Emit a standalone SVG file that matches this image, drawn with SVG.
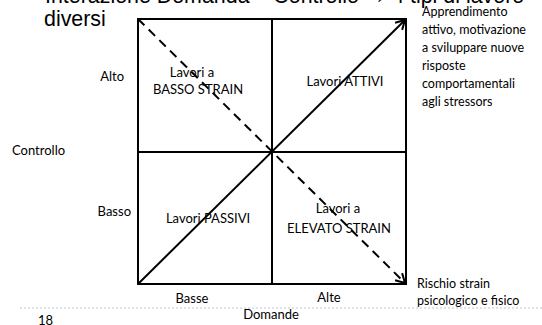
<svg xmlns="http://www.w3.org/2000/svg" width="542" height="325" viewBox="0 0 542 325">
  <style>
    .title { font-family: "Liberation Sans", Arial, sans-serif; font-size: 21.4px; fill: #000; }
    .lbl { font-family: Lato, "Open Sans", sans-serif; font-size: 13px; fill: #000; }
    .note { font-family: Lato, "Open Sans", sans-serif; font-size: 12.5px; fill: #000; }
    .grid { fill: none; stroke: #000; stroke-width: 2; }
    .edge { fill: none; stroke: #000; stroke-width: 2; }
    .dash { stroke-dasharray: 9 6; }
  </style>
  <defs>
    <marker id="chev" viewBox="0 0 12 12" refX="10" refY="6" markerWidth="12" markerHeight="12" markerUnits="userSpaceOnUse" orient="auto">
      <path d="M1,1 L10,6 L1,11" fill="none" stroke="#000" stroke-width="2"/>
    </marker>
  </defs>

  <!-- heading -->
  <g id="heading">
    <text class="title" x="26" y="3" font-size="14">•</text>
    <text class="title" x="45" y="3">Interazione Domanda – Controllo → 4 tipi di lavoro</text>
    <text class="title" x="44" y="26" font-size="22px">diversi</text>
  </g>

  <!-- 2x2 grid -->
  <g id="grid">
    <rect class="grid" x="138" y="19" width="268" height="265"/>
    <line class="grid" x1="272" y1="19" x2="272" y2="284"/>
    <line class="grid" x1="138" y1="152" x2="406" y2="152"/>
  </g>

  <g id="connectors">
    <line class="edge" x1="138" y1="284" x2="405" y2="20" marker-end="url(#chev)"/>
    <line class="edge dash" x1="138" y1="19" x2="405" y2="283" marker-end="url(#chev)"/>
  </g>

  <g id="q-basso-strain">
    <text class="lbl" x="192" y="77" text-anchor="middle">Lavori a</text>
    <text class="lbl" x="198" y="94" text-anchor="middle">BASSO STRAIN</text>
  </g>
  <g id="q-attivi">
    <text class="lbl" x="345" y="86" text-anchor="middle">Lavori ATTIVI</text>
  </g>
  <g id="q-passivi">
    <text class="lbl" x="208" y="223" text-anchor="middle">Lavori PASSIVI</text>
  </g>
  <g id="q-elevato-strain">
    <text class="lbl" x="338" y="213" text-anchor="middle">Lavori a</text>
    <text class="lbl" x="339" y="233" text-anchor="middle">ELEVATO STRAIN</text>
  </g>

  <!-- axis labels -->
  <g id="axis-controllo">
    <text class="lbl" x="124" y="81" text-anchor="end">Alto</text>
    <text class="lbl" x="12" y="155">Controllo</text>
    <text class="lbl" x="131" y="216" text-anchor="end">Basso</text>
  </g>
  <g id="axis-domande">
    <text class="lbl" x="192" y="303" text-anchor="middle">Basse</text>
    <text class="lbl" x="329" y="302" text-anchor="middle">Alte</text>
    <text class="lbl" x="271" y="319" text-anchor="middle">Domande</text>
  </g>

  <g id="note-attivi">
    <text class="note" x="422" y="16">Apprendimento</text>
    <text class="note" x="422" y="34">attivo, motivazione</text>
    <text class="note" x="422" y="52">a sviluppare nuove</text>
    <text class="note" x="422" y="70">risposte</text>
    <text class="note" x="422" y="88">comportamentali</text>
    <text class="note" x="422" y="106">agli stressors</text>
  </g>
  <g id="note-strain">
    <text class="note" x="417" y="288">Rischio strain</text>
    <text class="note" x="417" y="305">psicologico e fisico</text>
  </g>

  <!-- footer -->
  <line x1="20" y1="308" x2="542" y2="308" stroke="#b8c6d6" stroke-width="1" stroke-dasharray="2 2"/>
  <text class="lbl" x="38" y="325">18</text>
</svg>
